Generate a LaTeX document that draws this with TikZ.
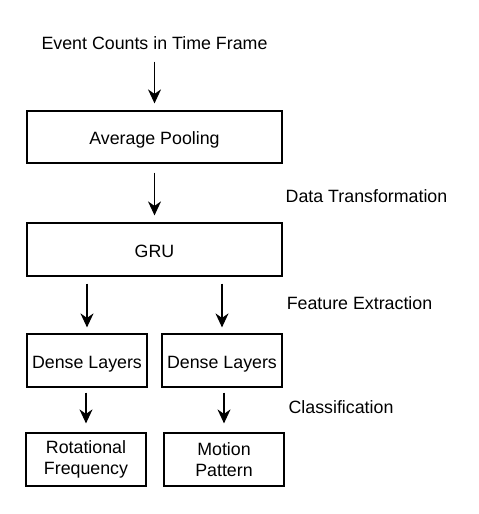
\documentclass[tikz,border=0pt]{standalone}
\usepackage{fontspec}
\setmainfont{Liberation Sans}
\usetikzlibrary{arrows.meta}
\begin{document}
\begin{tikzpicture}[x=1pt,y=-1pt,
  font=\fontsize{17.8}{20.5}\selectfont,
  box/.style={draw, line width=1.2pt, inner sep=0pt, align=center},
  onebox/.style={box, text height=15pt, text depth=0pt},
  lbl/.style={inner sep=0pt, align=center},
  arr/.style={line width=1.3pt, -{Stealth[length=14pt,width=13pt,inset=4.5pt]}}]
\useasboundingbox[fill=white] (0,0) rectangle (479,514);
\node[lbl] (title) at (154.5,43) {Event Counts in Time Frame};
\node[onebox, minimum width=255pt, minimum height=52pt] (avg) at (154.5,137) {Average Pooling};
\node[onebox, minimum width=255pt, minimum height=53pt] (gru) at (154.5,249.5) {GRU};
\node[lbl] (dt) at (366.5,196) {Data Transformation};
\node[lbl] (fe) at (359.5,303) {Feature Extraction};
\node[lbl] (cl) at (341,407) {Classification};
\node[onebox, minimum width=120pt, minimum height=53pt] (d1) at (87,360.5) {Dense Layers};
\node[onebox, minimum width=120pt, minimum height=53pt] (d2) at (222,360.5) {Dense Layers};
\node[box, minimum width=120pt, minimum height=53pt] (o1) at (86,459.5) {Rotational\\Frequency};
\node[box, minimum width=120pt, minimum height=53pt] (o2) at (224,459.5) {Motion\\Pattern};
\draw[arr] ([yshift=-12pt]title.south) -- ([yshift=7pt]avg.north);
\draw[arr] ([yshift=-9pt]avg.south) -- ([yshift=7pt]gru.north);
\draw[arr] ([yshift=-7pt]d1.north |- gru.south) -- ([yshift=6pt]d1.north);
\draw[arr] ([yshift=-7pt]d2.north |- gru.south) -- ([yshift=6pt]d2.north);
\draw[arr] ([yshift=-5pt]o1.north |- d1.south) -- ([yshift=9pt]o1.north);
\draw[arr] ([yshift=-5pt]o2.north |- d2.south) -- ([yshift=9pt]o2.north);
\end{tikzpicture}
\end{document}
